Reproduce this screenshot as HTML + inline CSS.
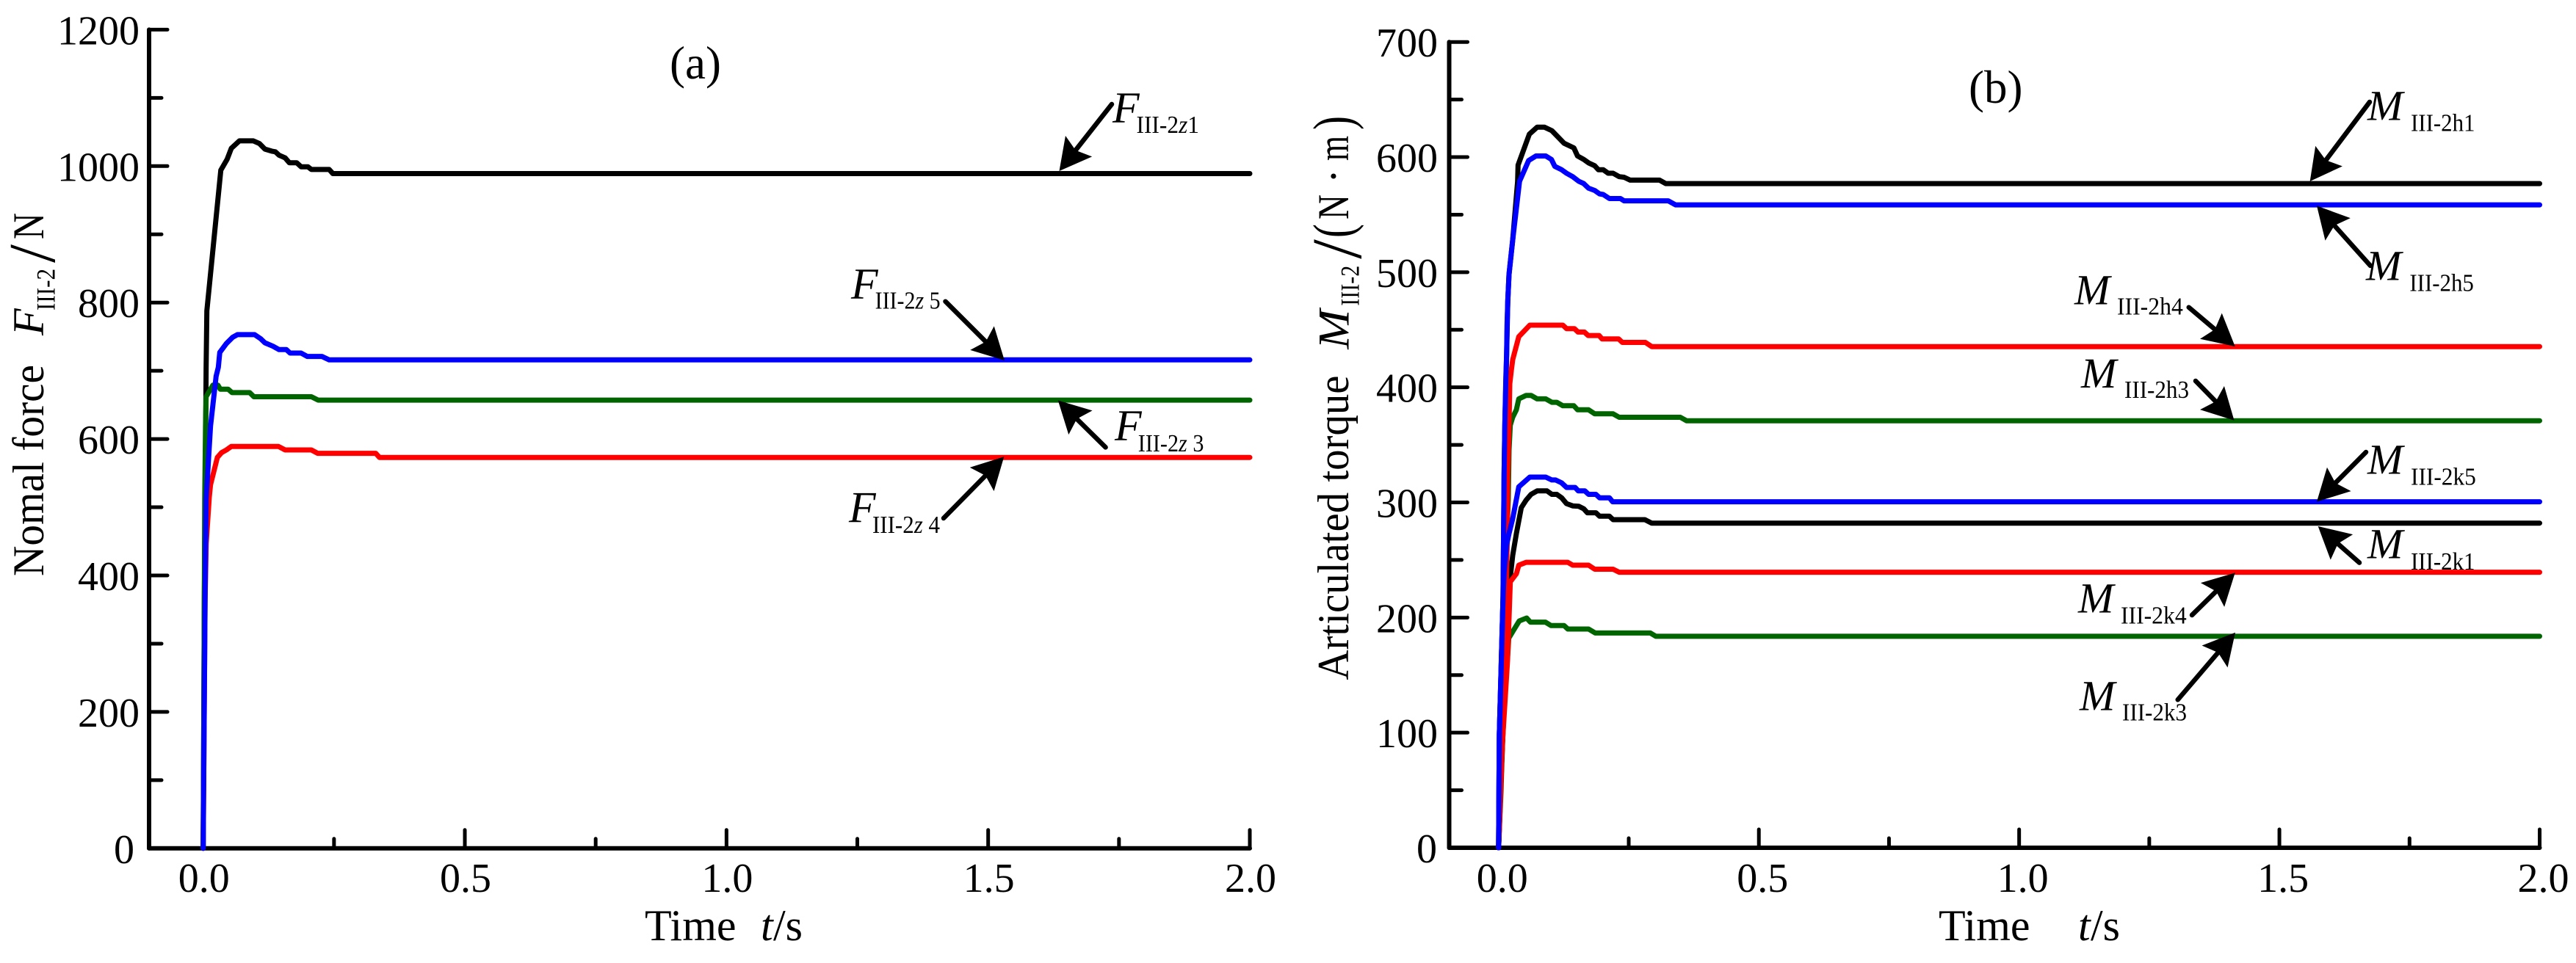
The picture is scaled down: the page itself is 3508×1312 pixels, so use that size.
<!DOCTYPE html>
<html lang="en">
<head>
<meta charset="utf-8">
<title>Normal force and articulated torque over time</title>
<style>
html,body{margin:0;padding:0;background:#fff}
svg{display:block}
text{font-family:"Liberation Serif",serif;fill:#000}
.i{font-style:italic}
</style>
</head>
<body>
<svg id="figure" xmlns="http://www.w3.org/2000/svg" width="3508" height="1312" viewBox="0 0 3508 1312">
<rect x="0" y="0" width="3508" height="1312" fill="#fff"/>
<g id="panelA"></g>
<g id="panelB"></g>
<g id="arrows"></g>

<text x="912" y="107" font-size="63">(a)</text>
<text x="2681" y="140" font-size="63">(b)</text>

<g>
<text transform="translate(59,785) rotate(-90)" font-size="60" textLength="288" lengthAdjust="spacingAndGlyphs">Nomal force</text>
<text class="i" transform="translate(59,457) rotate(-90)" font-size="60">F</text>
<text transform="translate(74.6,423) rotate(-90)" font-size="36" textLength="57" lengthAdjust="spacingAndGlyphs">III-2</text>
<text transform="translate(74,358) rotate(-90)" font-size="90">/</text>
<text transform="translate(59,326) rotate(-90)" font-size="60" textLength="36" lengthAdjust="spacingAndGlyphs">N</text>
</g>
<g>
<text transform="translate(1836,926.5) rotate(-90)" font-size="60" textLength="415" lengthAdjust="spacingAndGlyphs">Articulated torque</text>
<text class="i" transform="translate(1836.7,475.6) rotate(-90)" font-size="60" textLength="54" lengthAdjust="spacingAndGlyphs">M</text>
<text transform="translate(1850.5,416.7) rotate(-90)" font-size="36" textLength="55" lengthAdjust="spacingAndGlyphs">III-2</text>
<text transform="translate(1853,352.7) rotate(-90)" font-size="96">/</text>
<text transform="translate(1841,324) rotate(-90)" font-size="76" textLength="19" lengthAdjust="spacingAndGlyphs">(</text>
<text transform="translate(1836,299) rotate(-90)" font-size="60" textLength="34" lengthAdjust="spacingAndGlyphs">N</text>
<text transform="translate(1836,250) rotate(-90)" font-size="60">·</text>
<text transform="translate(1836,219) rotate(-90)" font-size="60" textLength="34" lengthAdjust="spacingAndGlyphs">m</text>
<text transform="translate(1841,177) rotate(-90)" font-size="76" textLength="19" lengthAdjust="spacingAndGlyphs">)</text>
</g>

<g>
<text x="878" y="1281" font-size="60">Time</text>
<text class="i" x="1036" y="1281" font-size="60">t</text>
<text x="1053" y="1281" font-size="60">/s</text>
</g>
<g>
<text x="2640" y="1281" font-size="60">Time</text>
<text class="i" x="2830" y="1281" font-size="60">t</text>
<text x="2847" y="1281" font-size="60">/s</text>
</g>

<g><text class="i" x="1515" y="167" font-size="60">F</text><text x="1547.5" y="181" font-size="34" textLength="85.5" lengthAdjust="spacingAndGlyphs">III-2<tspan class="i">z</tspan>1</text></g>
<g><text class="i" x="1159" y="407" font-size="60">F</text><text x="1191.6" y="420.5" font-size="34" textLength="89" lengthAdjust="spacingAndGlyphs">III-2<tspan class="i">z</tspan> 5</text></g>
<g><text class="i" x="1518" y="600" font-size="60">F</text><text x="1549.8" y="615" font-size="34" textLength="89.6" lengthAdjust="spacingAndGlyphs">III-2<tspan class="i">z</tspan> 3</text></g>
<g><text class="i" x="1156" y="711.7" font-size="60">F</text><text x="1188" y="726" font-size="34" textLength="92" lengthAdjust="spacingAndGlyphs">III-2<tspan class="i">z</tspan> 4</text></g>

<g><text class="i" x="3224" y="163.6" font-size="58">M</text><text x="3283" y="178.4" font-size="34" textLength="87.5" lengthAdjust="spacingAndGlyphs">III-2h1</text></g>
<g><text class="i" x="3222" y="381.4" font-size="58">M</text><text x="3281.4" y="396.7" font-size="34" textLength="87.5" lengthAdjust="spacingAndGlyphs">III-2h5</text></g>
<g><text class="i" x="2825" y="414.6" font-size="58">M</text><text x="2883" y="428.4" font-size="34" textLength="89.8" lengthAdjust="spacingAndGlyphs">III-2h4</text></g>
<g><text class="i" x="2834" y="527.9" font-size="58">M</text><text x="2893" y="542" font-size="34" textLength="88" lengthAdjust="spacingAndGlyphs">III-2h3</text></g>
<g><text class="i" x="3224" y="645.7" font-size="58">M</text><text x="3283" y="660.5" font-size="34" textLength="88.8" lengthAdjust="spacingAndGlyphs">III-2k5</text></g>
<g><text class="i" x="3224" y="760.5" font-size="58">M</text><text x="3283" y="775.8" font-size="34" textLength="87.5" lengthAdjust="spacingAndGlyphs">III-2k1</text></g>
<g><text class="i" x="2830" y="834.5" font-size="58">M</text><text x="2888" y="849.3" font-size="34" textLength="89.7" lengthAdjust="spacingAndGlyphs">III-2k4</text></g>
<g><text class="i" x="2832" y="967.3" font-size="58">M</text><text x="2890" y="981.7" font-size="34" textLength="88" lengthAdjust="spacingAndGlyphs">III-2k3</text></g>
</svg>

<script>
// Shared time axis
const xTicksMajor = [0, 0.5, 1.0, 1.5, 2.0];
const xTicksMinor = [0.25, 0.75, 1.25, 1.75];
const xTickLabels = ['0.0', '0.5', '1.0', '1.5', '2.0'];

// Panel (a): normal force
const yTicksMajorA = [0, 200, 400, 600, 800, 1000, 1200];
const yTicksMinorA = [100, 300, 500, 700, 900, 1100];
const yTickLabelsA = ['0', '200', '400', '600', '800', '1000', '1200'];

const tFz1 = [0, .0022, .0042, .0056, .007, .0337, .0457, .0537, .0692, .0958, .1075, .1179, .1309, .1379, .1449, .1566, .1646, .1786, .187, .2, .2067, .2408, .2478, 2];
const vFz1 = [0, 369, 547, 705, 788, 994, 1010, 1026, 1037, 1037, 1033, 1025, 1022, 1021, 1016, 1012, 1005, 1005, 999, 999, 995, 995, 989, 989];
const tFz4 = [0, .0035, .0058, .0116, .014, .0271, .0351, .0443, .0537, .144, .1566, .2067, .2189, .3297, .3368, 2];
const vFz4 = [0, 361, 447, 515, 533, 573, 580, 584, 589, 589, 584, 584, 579, 579, 573, 573];
const tFz3 = [0, .0018, .003, .0045, .0056, .0187, .028, .0327, .0477, .0551, .0888, .0968, .2067, .2197, 2];
const vFz3 = [0, 300, 512, 619, 662, 679, 679, 673, 673, 668, 668, 662, 662, 657, 657];
const tFz5 = [0, .0036, .0056, .014, .0247, .0289, .0317, .0443, .0561, .0654, .0982, .1099, .1179, .1333, .1449, .159, .166, .187, .1987, .2267, .2408, 2];
const vFz5 = [0, 369, 512, 619, 692, 705, 727, 740, 749, 753, 753, 747, 741, 736, 731, 731, 726, 726, 721, 721, 716, 716];

// Panel (b): articulated torque
const yTicksMajorB = [0, 100, 200, 300, 400, 500, 600, 700];
const yTicksMinorB = [50, 150, 250, 350, 450, 550, 650];
const yTickLabelsB = ['0', '100', '200', '300', '400', '500', '600', '700'];

const tMh1 = [0, .0014, .0085, .0106, .012, .0154, .0176, .02, .0271, .0365, .0374, .0591, .0741, .0882, .1023, .1258, .1446, .1517, .1635, .1728, .1847, .1917, .201, .2105, .22, .2317, .2411, .2528, .3093, .321, 2];
const vMh1 = [0, 98, 215, 324, 367, 428, 475, 498, 528, 579, 593, 620, 626, 626, 623, 612, 608, 601, 598, 595, 592.5, 589, 589, 586, 586, 583, 582.5, 580, 580, 577, 577];
const tMk1 = [0, .0059, .0144, .02, .0224, .0271, .0341, .0436, .0529, .0624, .0741, .093, .1023, .1117, .1212, .1305, .1423, .154, .1635, .1705, .1869, .194, .2129, .22, .281, .2942, 2];
const vMk1 = [0, 73, 163, 214, 235, 254, 273, 295.5, 302, 307, 310, 310, 307, 307, 304, 299, 297, 296.6, 294.5, 291, 291, 288, 288, 285, 285, 282, 282];
const tMh4 = [0, .0045, .0116, .0168, .0176, .02, .0214, .0247, .0271, .0388, .06, .1235, .1305, .1456, .1527, .1649, .172, .1931, .1988, .2307, .2377, .282, .2942, 2];
const vMh4 = [0, 67, 163, 271, 324, 367, 403, 415.6, 424, 444, 454, 454, 451, 451, 448, 448, 445, 445, 442, 442, 439, 439, 435.4, 435.4];
const tMk4 = [0, .0072, .0172, .0214, .0224, .0341, .0388, .0529, .1329, .1423, .1728, .1847, .22, .2317, 2];
const vMk4 = [0, 90, 163, 218, 231, 238, 245.5, 248, 248, 245.5, 245.5, 242, 242, 239.4, 239.4];
const tMh3 = [0, .0045, .0102, .0144, .0168, .0186, .02, .0224, .0271, .0341, .0388, .0529, .0624, .0741, .0906, .1023, .1117, .1235, .1446, .1517, .1728, .1847, .22, .2317, .3492, .361, 2];
const vMh3 = [0, 48, 131, 226, 282, 303, 345.5, 367, 374, 380.5, 390, 393, 393, 390, 390, 387, 387, 384, 384, 380.5, 380.5, 377, 377, 374, 374, 371, 371];
const tMk3 = [0, .0037, .0087, .0144, .0181, .0195, .0288, .0396, .0539, .061, .09, .1007, .1258, .133, .1728, .1857, .2915, .302, 2];
const vMk3 = [0, 53, 107, 150, 171, 182, 189, 197, 199.6, 196, 196, 193, 193, 190, 190, 186.6, 186.6, 183.7, 183.7];
const tMh5 = [0, .0014, .0085, .0106, .012, .014, .0154, .0162, .0176, .02, .0271, .0402, .0577, .0718, .0906, .1014, .1079, .1212, .1305, .1423, .154, .1635, .1728, .1847, .194, .201, .2129, .234, .2411, .3258, .3399, 2];
const vMh5 = [0, 98, 215, 324, 367, 409, 428, 454, 475, 498.5, 528, 579, 597, 601, 601, 598, 592, 589, 586, 583, 579, 577, 573, 571, 568, 567.5, 564, 564, 562, 562, 558.5, 558.5];
const tMk5 = [0, .0014, .0059, .0083, .0106, .0154, .02, .0271, .0388, .06, .0906, .1023, .1093, .1212, .1305, .147, .1531, .1658, .1728, .1869, .194, .2129, .219, 2];
const vMk5 = [0, 99, 175, 214, 239, 263, 273, 286, 313.6, 322, 322, 319.5, 319.5, 317, 313, 313, 310, 310, 307, 307, 304, 304, 300.6, 300.6];

const NS = 'http://www.w3.org/2000/svg';

function makeAxisX(x0, x2) { return function (t) { return x0 + (x2 - x0) * t / 2; }; }
function makeAxisY(y0, yTop, max) { return function (v) { return y0 + (yTop - y0) * v / max; }; }

const xA = makeAxisX(276.7, 1702);
const yA = makeAxisY(1155.8, 40.4, 1200);
const xB = makeAxisX(2040.8, 3458.5);
const yB = makeAxisY(1155, 57.2, 700);

function addLine(parent, x1, y1, x2, y2, w, name) {
  const el = document.createElementNS(NS, 'line');
  
  
  el.setAttribute('x1', x1);
  el.setAttribute('y1', y1);
  el.setAttribute('x2', x2);
  el.setAttribute('y2', y2);
  el.setAttribute('stroke', '#000');
  el.setAttribute('stroke-width', w);
  el.setAttribute('stroke-linecap', 'round');
  parent.appendChild(el);
}

function addLabel(parent, x, y, anchor, str, name) {
  const el = document.createElementNS(NS, 'text');
  
  
  el.setAttribute('x', x);
  el.setAttribute('y', y);
  el.setAttribute('text-anchor', anchor);
  el.setAttribute('font-size', '56');
  el.textContent = str;
  parent.appendChild(el);
}

function drawAxes(parent, sx, sy, axisX, axisRight, yMajor, yMinor, yLabels, labelRight, zeroRight, labelShift, prefix) {
  const y0 = sy(0);
  const yTop = sy(yMajor[yMajor.length - 1]);
  addLine(parent, axisX, yTop, axisX, y0, 6, prefix + '-y-axis-line');
  addLine(parent, axisX, y0, axisRight, y0, 6, prefix + '-x-axis-line');
  yMajor.forEach(function (v, i) {
    addLine(parent, axisX, sy(v), axisX + 25, sy(v), 5, prefix + '-y-major-tick');
    addLabel(parent, i === 0 ? zeroRight : labelRight, sy(v) + 20, 'end', yLabels[i], prefix + '-y-tick-label');
  });
  yMinor.forEach(function (v) {
    addLine(parent, axisX, sy(v), axisX + 17, sy(v), 5, prefix + '-y-minor-tick');
  });
  xTicksMajor.forEach(function (t, i) {
    addLine(parent, sx(t), y0, sx(t), y0 - 25, 5, prefix + '-x-major-tick');
    addLabel(parent, sx(t) + labelShift, 1215, 'middle', xTickLabels[i], prefix + '-x-tick-label');
  });
  xTicksMinor.forEach(function (t) {
    addLine(parent, sx(t), y0, sx(t), y0 - 13, 5, prefix + '-x-minor-tick');
  });
}

function drawSeries(parent, sx, sy, times, values, color, name) {
  const el = document.createElementNS(NS, 'polyline');
  
  
  el.setAttribute('points', times.map(function (t, i) {
    return sx(t).toFixed(1) + ',' + sy(values[i]).toFixed(1);
  }).join(' '));
  el.setAttribute('fill', 'none');
  el.setAttribute('stroke', color);
  el.setAttribute('stroke-width', '7');
  el.setAttribute('stroke-linejoin', 'round');
  el.setAttribute('stroke-linecap', 'round');
  parent.appendChild(el);
}

function drawArrow(parent, tx, ty, hx, hy, name) {
  const g = document.createElementNS(NS, 'g');
  
  
  const dx = hx - tx, dy = hy - ty;
  const len = Math.sqrt(dx * dx + dy * dy);
  const ux = dx / len, uy = dy / len;
  const headLen = 43, halfW = 23, notch = 36;
  const shaft = document.createElementNS(NS, 'line');
  shaft.setAttribute('x1', tx);
  shaft.setAttribute('y1', ty);
  shaft.setAttribute('x2', hx - ux * notch);
  shaft.setAttribute('y2', hy - uy * notch);
  shaft.setAttribute('stroke', '#000');
  shaft.setAttribute('stroke-width', '6.5');
  shaft.setAttribute('stroke-linecap', 'round');
  g.appendChild(shaft);
  const head = document.createElementNS(NS, 'polygon');
  const bx = hx - ux * headLen, by = hy - uy * headLen;
  const nx = hx - ux * notch, ny = hy - uy * notch;
  head.setAttribute('points', [
    hx + ',' + hy,
    (bx - uy * halfW) + ',' + (by + ux * halfW),
    nx + ',' + ny,
    (bx + uy * halfW) + ',' + (by - ux * halfW)
  ].join(' '));
  head.setAttribute('fill', '#000');
  g.appendChild(head);
  parent.appendChild(g);
}

const panelA = document.getElementById('panelA');
const panelB = document.getElementById('panelB');
const arrows = document.getElementById('arrows');

drawAxes(panelA, xA, yA, 203, 1702, yTicksMajorA, yTicksMinorA, yTickLabelsA, 190, 183, 1, 'panel-a');
drawSeries(panelA, xA, yA, tFz1, vFz1, '#000000', 'series-f-z1');
drawSeries(panelA, xA, yA, tFz4, vFz4, '#ff0000', 'series-f-z4');
drawSeries(panelA, xA, yA, tFz3, vFz3, '#006400', 'series-f-z3');
drawSeries(panelA, xA, yA, tFz5, vFz5, '#0000ff', 'series-f-z5');

drawAxes(panelB, xB, yB, 1973.5, 3458.5, yTicksMajorB, yTicksMinorB, yTickLabelsB, 1958, 1957, 5, 'panel-b');
drawSeries(panelB, xB, yB, tMk3, vMk3, '#006400', 'series-m-k3');
drawSeries(panelB, xB, yB, tMh3, vMh3, '#006400', 'series-m-h3');
drawSeries(panelB, xB, yB, tMh1, vMh1, '#000000', 'series-m-h1');
drawSeries(panelB, xB, yB, tMk1, vMk1, '#000000', 'series-m-k1');
drawSeries(panelB, xB, yB, tMk4, vMk4, '#ff0000', 'series-m-k4');
drawSeries(panelB, xB, yB, tMh4, vMh4, '#ff0000', 'series-m-h4');
drawSeries(panelB, xB, yB, tMk5, vMk5, '#0000ff', 'series-m-k5');
drawSeries(panelB, xB, yB, tMh5, vMh5, '#0000ff', 'series-m-h5');

drawArrow(arrows, 1514, 142, 1442.5, 233, 'arrow-f-z1');
drawArrow(arrows, 1287.5, 410.7, 1367.9, 491, 'arrow-f-z5');
drawArrow(arrows, 1505.6, 609.4, 1440.8, 545.5, 'arrow-f-z3');
drawArrow(arrows, 1285, 706, 1367.3, 622.3, 'arrow-f-z4');
drawArrow(arrows, 3227, 139, 3145.7, 247, 'arrow-m-h1');
drawArrow(arrows, 3228, 362, 3155, 280.4, 'arrow-m-h5');
drawArrow(arrows, 2980.7, 418.7, 3043.7, 472, 'arrow-m-h4');
drawArrow(arrows, 2990, 519, 3042.5, 572.8, 'arrow-m-h3');
drawArrow(arrows, 3222, 616, 3155, 683.5, 'arrow-m-k5');
drawArrow(arrows, 3213, 766.6, 3156.7, 717, 'arrow-m-k1');
drawArrow(arrows, 2985, 838, 3043.7, 780.4, 'arrow-m-k4');
drawArrow(arrows, 2965.7, 953.3, 3044, 861.7, 'arrow-m-k3');
</script>
</body>
</html>
